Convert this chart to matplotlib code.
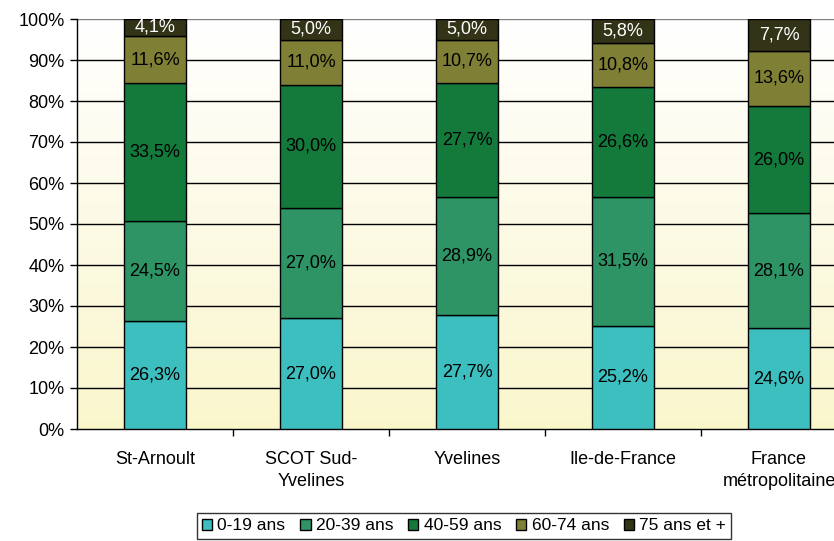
import numpy as np
import matplotlib.pyplot as plt
from matplotlib.colors import LinearSegmentedColormap
from matplotlib.patches import Patch

plt.rcParams["font.family"] = ["Liberation Sans", "DejaVu Sans"]

zones = ["St-Arnoult", "SCOT Sud-\nYvelines", "Yvelines", "Ile-de-France",
         "France\nmétropolitaine"]
groups = ["0-19 ans", "20-39 ans", "40-59 ans", "60-74 ans", "75 ans et +"]
age_0_19 = [26.3, 27.0, 27.7, 25.2, 24.6]
age_20_39 = [24.5, 27.0, 28.9, 31.5, 28.1]
age_40_59 = [33.5, 30.0, 27.7, 26.6, 26.0]
age_60_74 = [11.6, 11.0, 10.7, 10.8, 13.6]
age_75_plus = [4.1, 5.0, 5.0, 5.8, 7.7]
series = [age_0_19, age_20_39, age_40_59, age_60_74, age_75_plus]

colors = ["#3dbfbf", "#2e9466", "#147a3c", "#7f7f35", "#333317"]
text_colors = ["black", "black", "black", "black", "white"]

fig = plt.figure(figsize=(8.34, 5.41), dpi=100)
W, H = 834, 541
ax = fig.add_axes([77 / W, (H - 429) / H, 780 / W, 410 / H])

# pale yellow at the bottom fading to white at the top
grad = LinearSegmentedColormap.from_list("bg", ["#ffffff", "#faf6cc"])
ax.imshow(np.linspace(1, 0, 256).reshape(-1, 1), cmap=grad, aspect="auto",
          origin="lower", extent=[-0.5, 4.5, 0, 100], zorder=0)

x = np.arange(len(zones))
bottom = np.zeros(len(zones))
for vals, col, tc in zip(series, colors, text_colors):
    vals = np.array(vals)
    ax.bar(x, vals, width=0.4, bottom=bottom, color=col, edgecolor="black",
           linewidth=1, zorder=3)
    for xi, b, v in zip(x, bottom, vals):
        ax.text(xi, b + v / 2, f"{v:.1f}%".replace(".", ","), ha="center",
                va="center", fontsize=13, color=tc, zorder=4)
    bottom += vals

ax.set_xlim(-0.5, 4.5)
ax.set_ylim(0, 100)
ticks = np.arange(0, 101, 10)
ax.set_yticks(ticks)
ax.set_yticklabels([f"{t}%" for t in ticks], fontsize=13)
for t in ticks[1:]:
    ax.axhline(t, color="#808080" if t == 100 else "black", lw=1, zorder=1)

ax.set_xticks(x)
ax.set_xticklabels(zones, fontsize=13, linespacing=1.35)
ax.set_xticks(np.arange(0.5, 4.5, 1), minor=True)
ax.tick_params(axis="x", which="major", length=0, pad=16)
ax.tick_params(axis="x", which="minor", length=5, width=1, direction="out")
ax.tick_params(axis="y", length=5, width=1, direction="out", pad=4)

for side in ["top", "right"]:
    ax.spines[side].set_visible(False)
ax.spines["left"].set_linewidth(1)
ax.spines["bottom"].set_linewidth(1)

handles = [Patch(facecolor=c, edgecolor="black", linewidth=1) for c in colors]
fig.legend(handles, groups, loc="center", bbox_to_anchor=(464 / W, 1 - 526 / H),
           ncol=5, fontsize=12.5, frameon=True, fancybox=False, edgecolor="black",
           handlelength=0.6, handleheight=0.6, handletextpad=0.3,
           columnspacing=0.85, borderpad=0.3)

fig.savefig("out.png", dpi=100)
